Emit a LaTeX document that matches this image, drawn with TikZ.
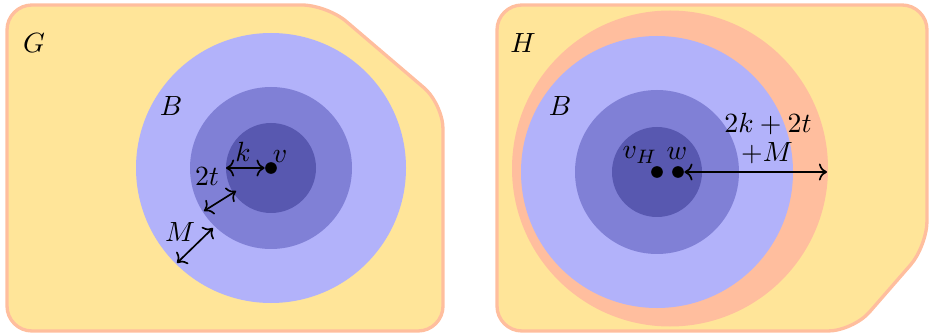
\documentclass[tikz,border=0pt]{standalone}
\usepackage{amsmath, amssymb}
\usepackage{xcolor}
\usepackage{tikz}
\usetikzlibrary{arrows.meta, positioning}

\definecolor{graphfill}{RGB}{255,229,153}
\definecolor{graphline}{RGB}{255,190,158}
\definecolor{ballA}{RGB}{178,178,250}
\definecolor{ballB}{RGB}{128,128,214}
\definecolor{ballC}{RGB}{88,88,176}

\begin{document}
\begin{tikzpicture}[
      x=0.36pt, y=0.36pt,
      region/.style={draw=graphline, fill=graphfill, line width=1.2pt, rounded corners=9pt},
      dot/.style={circle, fill=black, inner sep=0pt, minimum size=4.2pt},
      arrow/.style={<->, semithick},
      lbl/.style={inner sep=0pt}
    ]
      \useasboundingbox (0,0) rectangle (930,335);

      % the two graphs
      \draw[region] (7,330) -- (327,330) -- (443,231) -- (443,4) -- (7,4) -- cycle;
      \draw[region] (497,330) -- (927,330) -- (927,89) -- (853,4) -- (497,4) -- cycle;

      % balls in G
      \fill[ballA] (271,167) circle (135);
      \fill[ballB] (271,167) circle (81);
      \fill[ballC] (271,167) circle (45);

      % balls in H
      \fill[graphline] (670,166.5) circle (158);
      \fill[ballA] (657,163) circle (136);
      \fill[ballB] (657,163) circle (82);
      \fill[ballC] (657,163) circle (45);

      % centres
      \node[dot] (v) at (271,167) {};
      \node[dot] (vH) at (657,163) {};
      \node[dot] (w) at (678,163) {};

      \coordinate (kstart) at (226,167);
      \coordinate (tin) at (236,144);
      \coordinate (tout) at (204,124);
      \coordinate (Min) at (213,107);
      \coordinate (Mout) at (177,72);
      \coordinate (wend) at (827,163);

      \draw[arrow] (kstart) -- (v);
      \draw[arrow] (tin) -- (tout);
      \draw[arrow] (Min) -- (Mout);
      \draw[arrow] (w) -- (wend);

      % labels
      \node[lbl] (Glabel) at (34,292) {$G$};
      \node[lbl] (BG) at (171,229) {$B$};
      \node[lbl] (klabel) at (243,183) {$k$};
      \node[lbl] (vlabel) at (280,178) {$v$};
      \node[lbl] (tlabel) at (207,158) {$2t$};
      \node[lbl] (Mlabel) at (180,103) {$M$};

      \node[lbl] (Hlabel) at (523,292) {$H$};
      \node[lbl] (BH) at (560,229) {$B$};
      \node[lbl] (vHlabel) at (640,180) {$v_H$};
      \node[lbl] (wlabel) at (677,181) {$w$};
      \node[lbl] (rlabel) at (768,211) {$2k+2t$};
      \node[lbl] (rlabel2) at (767,182) {$+M$};
    \end{tikzpicture}
\end{document}
